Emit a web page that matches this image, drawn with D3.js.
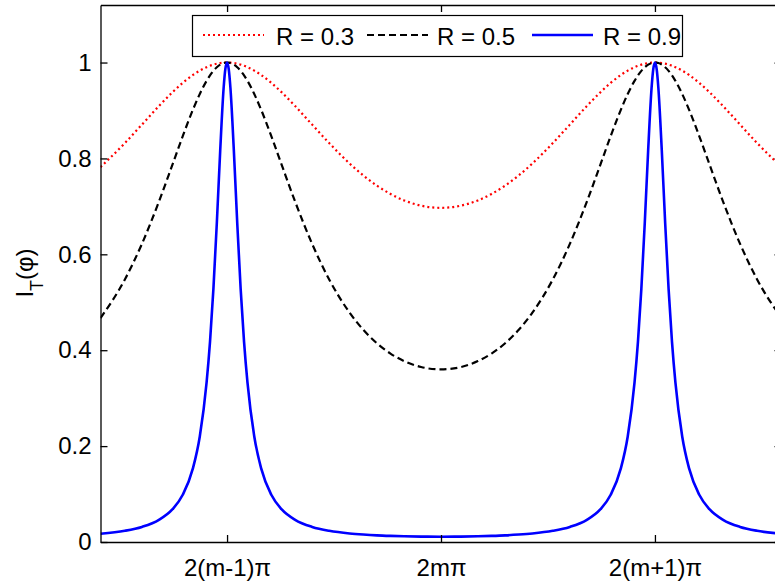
<!DOCTYPE html>
<html><head><meta charset="utf-8">
<script src="https://cdn.jsdelivr.net/npm/d3@7"></script>
<style>html,body{margin:0;padding:0;background:#fff;overflow:hidden}svg{display:block}</style>
</head><body>
<script>
// phase (radians, peaks at ±π, minimum at 0)
const phase = [
 -5.000,-4.642,-4.392,-4.142,-3.942,-3.792,-3.642,-3.542,-3.442,-3.392,-3.342,-3.292,-3.242,-3.192,-3.167,-3.142,
 -3.117,-3.092,-3.042,-2.992,-2.942,-2.892,-2.842,-2.742,-2.642,-2.492,-2.342,-2.142,-1.892,-1.642,-1.342,-1.142,-0.942,-0.742,-0.542,-0.292,
 0,
 0.292,0.542,0.742,0.942,1.142,1.342,1.642,1.892,2.142,2.342,2.492,2.642,2.742,2.842,2.892,2.942,2.992,3.042,3.092,3.117,
 3.142,3.167,3.192,3.242,3.292,3.342,3.392,3.442,3.542,3.642,3.792,3.942,4.142,4.392,4.642,5.000];
const r03 = [
 0.7819,0.8320,0.8705,0.9092,0.9382,0.9576,0.9741,0.9831,0.9904,0.9933,0.9957,0.9976,0.9989,0.9997,0.9999,1,
 0.9999,0.9997,0.9989,0.9976,0.9957,0.9933,0.9904,0.9831,0.9741,0.9576,0.9382,0.9092,0.8705,0.8320,0.7894,0.7646,0.7433,0.7259,0.7124,0.7015,
 0.6970,
 0.7015,0.7124,0.7259,0.7433,0.7646,0.7894,0.8320,0.8705,0.9092,0.9382,0.9576,0.9741,0.9831,0.9904,0.9933,0.9957,0.9976,0.9989,0.9997,0.9999,
 1,0.9999,0.9997,0.9989,0.9976,0.9957,0.9933,0.9904,0.9831,0.9741,0.9576,0.9382,0.9092,0.8705,0.8320,0.7819];
const r05 = [
 0.4671,0.5476,0.6217,0.7099,0.7877,0.8466,0.9019,0.9344,0.9618,0.9731,0.9826,0.9901,0.9956,0.9989,0.9997,1,
 0.9997,0.9989,0.9956,0.9901,0.9826,0.9731,0.9618,0.9344,0.9019,0.8466,0.7877,0.7099,0.6217,0.5476,0.4783,0.4427,0.4146,0.3930,0.3773,0.3649,
 0.3600,
 0.3649,0.3773,0.3930,0.4146,0.4427,0.4783,0.5476,0.6217,0.7099,0.7877,0.8466,0.9019,0.9344,0.9618,0.9731,0.9826,0.9901,0.9956,0.9989,0.9997,
 1,0.9997,0.9989,0.9956,0.9901,0.9826,0.9731,0.9618,0.9344,0.9019,0.8466,0.7877,0.7099,0.6217,0.5476,0.4671];
const r09 = [
 0.0171,0.0234,0.0315,0.0462,0.0684,0.0985,0.1540,0.2202,0.3329,0.4175,0.5278,0.6649,0.8169,0.9469,0.9862,1,
 0.9862,0.9469,0.8169,0.6649,0.5278,0.4175,0.3329,0.2202,0.1540,0.0985,0.0684,0.0462,0.0315,0.0234,0.0178,0.0155,0.0138,0.0127,0.0119,0.0113,
 0.0110,
 0.0113,0.0119,0.0127,0.0138,0.0155,0.0178,0.0234,0.0315,0.0462,0.0684,0.0985,0.1540,0.2202,0.3329,0.4175,0.5278,0.6649,0.8169,0.9469,0.9862,
 1,0.9862,0.9469,0.8169,0.6649,0.5278,0.4175,0.3329,0.2202,0.1540,0.0985,0.0684,0.0462,0.0315,0.0234,0.0171];
const seriesNames = ["R = 0.3","R = 0.5","R = 0.9"];
const seriesColors = ["#ff0000","#000000","#0000ff"];
const xTickVals = [-3.1416, 0, 3.1416];
const xTickLabels = ["2(m-1)π","2mπ","2(m+1)π"];
const yTickVals = [0,0.2,0.4,0.6,0.8,1];
const yTickLabels = ["0","0.2","0.4","0.6","0.8","1"];

const W=775,H=581;
const L=100.5,R=781.5,T=5,B=542;
const svg=d3.select("body").append("svg").attr("width",W).attr("height",H);
const x=d3.scaleLinear().domain([-5,5]).range([L,R]);
const y=d3.scaleLinear().domain([0,1.12]).range([B,T]);
const font="'Liberation Sans', Arial, sans-serif";
const fs=24;

svg.append("defs").append("clipPath").attr("id","clip").append("rect")
  .attr("x",L).attr("y",T).attr("width",R-L).attr("height",B-T);

const series=[r03,r05,r09];
const dashes=["2,3","7,4",null];
const widths=[2.2,2.2,2.6];
const line=d3.line().x((d,i)=>x(phase[i])).y(d=>y(d)).curve(d3.curveMonotoneX);
const g=svg.append("g").attr("clip-path","url(#clip)");
series.forEach((s,k)=>{
  g.append("path").datum(s).attr("d",line).attr("fill","none")
   .attr("stroke",seriesColors[k]).attr("stroke-width",widths[k])
   .attr("stroke-dasharray",dashes[k]);
});

// axes
function style(ax){
  ax.selectAll("path").attr("stroke","#000").attr("stroke-width",1.3);
  ax.selectAll("line").attr("stroke","#000").attr("stroke-width",1.3);
  ax.selectAll("text").attr("font-family",font).attr("font-size",fs).attr("fill","#000");
}
const xb=svg.append("g").attr("transform",`translate(0,${B})`)
  .call(d3.axisBottom(x).tickValues(xTickVals).tickFormat((d,i)=>xTickLabels[i]).tickSizeInner(-7).tickSizeOuter(0).tickPadding(17));
style(xb);
const xt=svg.append("g").attr("transform",`translate(0,${T})`)
  .call(d3.axisTop(x).tickValues(xTickVals).tickFormat("").tickSizeInner(-7).tickSizeOuter(0));
style(xt);
const yl=svg.append("g").attr("transform",`translate(${L},0)`)
  .call(d3.axisLeft(y).tickValues(yTickVals).tickFormat((d,i)=>yTickLabels[i]).tickSizeInner(-7).tickSizeOuter(0).tickPadding(9));
style(yl);
const yr=svg.append("g").attr("transform",`translate(${R},0)`)
  .call(d3.axisRight(y).tickValues(yTickVals).tickFormat("").tickSizeInner(-7).tickSizeOuter(0));
style(yr);

// y label
const yt=svg.append("text").attr("transform","translate(33,273) rotate(-90)")
  .attr("text-anchor","middle").attr("font-family",font).attr("font-size",fs).attr("fill","#000");
yt.append("tspan").text("I");
yt.append("tspan").attr("font-size",18).attr("dy",10).text("T");
yt.append("tspan").attr("dy",-10).text("(φ)");

// legend
const lg=svg.append("g");
lg.append("rect").attr("x",192.5).attr("y",15.5).attr("width",490).attr("height",41)
  .attr("fill","#fff").attr("stroke","#000").attr("stroke-width",1.2);
const lx=[203,367,532], tx=[276,437,603];
seriesNames.forEach((n,k)=>{
  lg.append("line").attr("x1",lx[k]).attr("x2",lx[k]+61).attr("y1",35).attr("y2",35)
    .attr("stroke",seriesColors[k]).attr("stroke-width",widths[k]).attr("stroke-dasharray",dashes[k]);
  lg.append("text").attr("x",tx[k]).attr("y",45).attr("font-family",font).attr("font-size",fs)
    .attr("fill","#000").text(n);
});
</script>
</body></html>
